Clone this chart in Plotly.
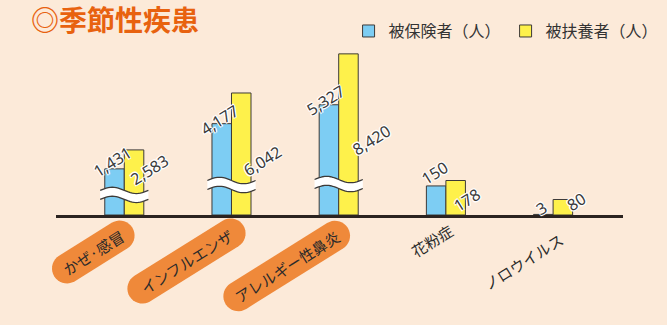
import math
import plotly.graph_objects as go

# ---------------- data ----------------
CATEGORIES = ["かぜ·感冒", "インフルエンザ", "アレルギー性鼻炎", "花粉症", "ノロウイルス"]
INSURED = [1431, 4177, 5327, 150, 3]        # 被保険者（人）
DEPENDENTS = [2583, 6042, 8420, 178, 80]    # 被扶養者（人）
SERIES_NAMES = ["被保険者（人）", "被扶養者（人）"]
TITLE = "◎季節性疾患"

# ---------------- layout / style constants ----------------
W, H = 667, 325
ML, MR, MT, MB = 56, 44, 40, 110
X_RANGE = [-0.637, 4.652]
BROKEN = [True, True, True, False, False]   # groups drawn on the broken (compressed) axis
Y1_RANGE = [-1373, 9262]                    # broken axis: lower part compressed
Y2_RANGE = [0, 903]                         # small-value axis
BAR_W = 0.182
BREAK_AT = [-150, 450, 510]                 # y1 value of the wavy break for each broken group
PILL = [True, True, True, False, False]
PILL_LEN = [92, 134, 144]
PILL_T = 30
ANGLE = 32

BLUE = "#7dcdf3"
YELLOW = "#fef14b"
EDGE = "#3d3a38"
BG = "#fcead9"
ORANGE = "#ef893a"
TITLE_ORANGE = "#e8620f"
TXT = "#333333"
FONT = "Noto Sans CJK JP"

# label offsets (px, +y = up) relative to bar top
SHIFT_INS = [(-2.5, 7), (-2.5, 4), (-3, 5), (-1.5, 13), (-1.5, 6)]
SHIFT_DEP = [(15, -20), (21, -68), (23, -86), (11, -19), (13, -2)]
# category label offsets relative to (category, baseline)
SHIFT_CAT = [(-31, -37), (-45, -46), (-52, -51), (-14, -25), (-30, -46)]

fig = go.Figure()

big = [i for i, b in enumerate(BROKEN) if b]
small = [i for i, b in enumerate(BROKEN) if not b]

for vals, color, name, off, show in [
    (INSURED, BLUE, SERIES_NAMES[0], -BAR_W, True),
    (DEPENDENTS, YELLOW, SERIES_NAMES[1], 0.0, True),
]:
    fig.add_trace(go.Bar(
        x=big, y=[vals[i] - Y1_RANGE[0] for i in big], base=Y1_RANGE[0],
        width=BAR_W, offset=off, name=name, legendgroup=name, showlegend=show,
        marker=dict(color=color, line=dict(color=EDGE, width=1)),
        yaxis="y", hoverinfo="skip",
    ))
    fig.add_trace(go.Bar(
        x=small, y=[vals[i] for i in small],
        width=BAR_W, offset=off, name=name, legendgroup=name, showlegend=False,
        marker=dict(color=color, line=dict(color=EDGE, width=1)),
        yaxis="y2", hoverinfo="skip",
    ))

annotations = []
shadow = "-1px -1px 0 #fff, 1px -1px 0 #fff, -1px 1px 0 #fff, 1px 1px 0 #fff, 0 0 2px #fff"
for i in range(len(CATEGORIES)):
    yref = "y" if BROKEN[i] else "y2"
    for vals, sh, xoff in [(INSURED, SHIFT_INS, -BAR_W / 2), (DEPENDENTS, SHIFT_DEP, BAR_W / 2)]:
        annotations.append(dict(
            x=i + xoff, y=vals[i], xref="x", yref=yref, text=f"{vals[i]:,}",
            showarrow=False, textangle=-ANGLE, xanchor="center", yanchor="middle",
            xshift=sh[i][0], yshift=sh[i][1],
            font=dict(family="Noto Sans", size=16, color="#3a3a3a", shadow=shadow),
        ))

# category labels (+ orange pills)
shapes = []
def xpaper(v):
    return (v - X_RANGE[0]) / (X_RANGE[1] - X_RANGE[0])

th = math.radians(ANGLE)
for i, cat in enumerate(CATEGORIES):
    dx, dy = SHIFT_CAT[i]
    annotations.append(dict(
        x=xpaper(i), y=0, xref="paper", yref="paper", text=cat, showarrow=False,
        textangle=-ANGLE, xanchor="center", yanchor="middle", xshift=dx, yshift=dy,
        font=dict(family=FONT, size=15, color="#2a2a2a"),
    ))
    if PILL[i]:
        L = PILL_LEN[i]
        r = PILL_T / 2
        c = L / 2 - r
        pts = []
        for k in range(0, 19):
            a = math.radians(-90 + k * 10)
            pts.append((c + r * math.cos(a), r * math.sin(a)))
        for k in range(0, 19):
            a = math.radians(90 + k * 10)
            pts.append((-c + r * math.cos(a), r * math.sin(a)))
        rp = []
        for (px, py) in pts:
            rx = px * math.cos(th) - py * math.sin(th) + dx
            ry = px * math.sin(th) + py * math.cos(th) + dy
            rp.append(f"{rx:.2f},{ry:.2f}")
        path = "M" + " L".join(rp) + " Z"
        shapes.append(dict(
            type="path", path=path, xref="paper", yref="paper",
            xsizemode="pixel", ysizemode="pixel", xanchor=xpaper(i), yanchor=0,
            fillcolor=ORANGE, line=dict(width=0), layer="below",
        ))

# wavy break marks on broken bars
y1_per_px = (Y1_RANGE[1] - Y1_RANGE[0]) / (H - MT - MB)
for j, i in enumerate(big):
    yc = BREAK_AT[j]
    half = 0.225
    amp = 3.2 * y1_per_px
    ht = 4.5 * y1_per_px
    n = 24
    top, bot = [], []
    for k in range(n + 1):
        t = k / n
        xx = i - half + 2 * half * t
        s = amp * math.sin(2 * math.pi * t)
        top.append((xx, yc + ht + s))
        bot.append((xx, yc - ht + s))
    fill = "M" + " L".join(f"{x:.4f},{y:.2f}" for x, y in top + bot[::-1]) + " Z"
    shapes.append(dict(type="path", path=fill, xref="x", yref="y",
                       fillcolor="white", line=dict(width=0)))
    for curve in (top, bot):
        p = "M" + " L".join(f"{x:.4f},{y:.2f}" for x, y in curve)
        shapes.append(dict(type="path", path=p, xref="x", yref="y",
                           fillcolor="rgba(0,0,0,0)", line=dict(color=EDGE, width=1.3)))

fig.update_layout(
    width=W, height=H,
    margin=dict(l=ML, r=MR, t=MT, b=MB, autoexpand=False),
    paper_bgcolor=BG, plot_bgcolor=BG,
    barmode="overlay",
    showlegend=True,
    legend=dict(orientation="h", x=0.516, y=1.051, xanchor="left", yanchor="middle",
                font=dict(family=FONT, size=16, color=TXT), bgcolor="rgba(0,0,0,0)",
                itemwidth=30, traceorder="normal"),
    title=dict(text=TITLE, x=31 / W, y=1 - 21 / H, xref="container", yref="container",
               xanchor="left", yanchor="middle",
               font=dict(family=FONT, size=28, color=TITLE_ORANGE, weight="bold")),
    xaxis=dict(range=X_RANGE, showticklabels=False, showgrid=False, zeroline=False,
               showline=True, linecolor="#2b2320", linewidth=3, ticks="", fixedrange=True),
    yaxis=dict(range=Y1_RANGE, visible=False, fixedrange=True),
    yaxis2=dict(range=Y2_RANGE, visible=False, overlaying="y", fixedrange=True),
    annotations=annotations,
    shapes=shapes,
    hovermode=False,
)

fig.write_html("out.html")
